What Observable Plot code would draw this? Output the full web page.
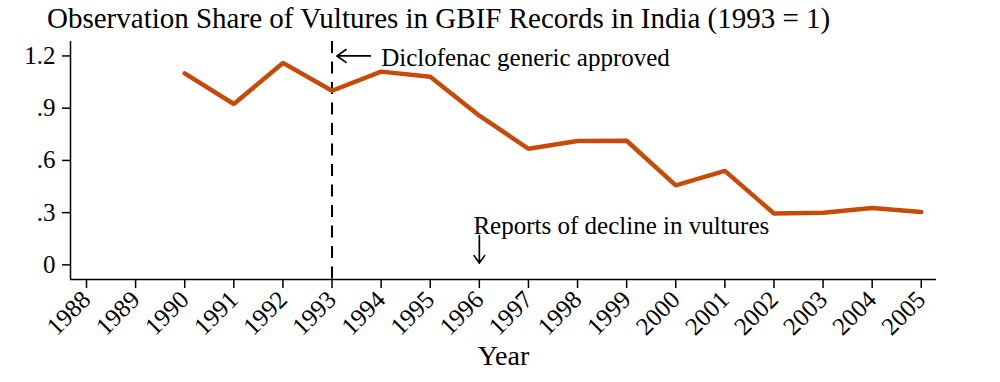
<!DOCTYPE html>
<html>
<head>
<meta charset="utf-8">
<script src="https://cdn.jsdelivr.net/npm/d3@7"></script>
<script src="https://cdn.jsdelivr.net/npm/@observablehq/plot@0.6"></script>
<style>
  html, body { margin: 0; padding: 0; background: white; }
  #title { height: 38px; box-sizing: border-box; padding-top: 4px; padding-left: 47px;
           font-family: "Liberation Serif", serif; font-size: 29px; line-height: 29px; color: black; white-space: nowrap; }
</style>
</head>
<body>
<div id="title">Observation Share of Vultures in GBIF Records in India (1993 = 1)</div>
<div id="chart"></div>
<script>
// ---- data ----
const years = [1990, 1991, 1992, 1993, 1994, 1995, 1996, 1997, 1998, 1999, 2000, 2001, 2002, 2003, 2004, 2005];
const share = [1.10, 0.924, 1.16, 1.00, 1.11, 1.08, 0.857, 0.667, 0.711, 0.713, 0.457, 0.540, 0.295, 0.300, 0.327, 0.304];
const tickYears = [1988, 1989, 1990, 1991, 1992, 1993, 1994, 1995, 1996, 1997, 1998, 1999, 2000, 2001, 2002, 2003, 2004, 2005];
const yTicks = [0, 0.3, 0.6, 0.9, 1.2];
const yTickLabels = ["0", ".3", ".6", ".9", "1.2"];
const eventYears = [1993];
const noteTexts = ["Diclofenac generic approved", "Reports of decline in vultures"];
const noteX = [1994.0, 1995.88];
const noteY = [1.19, 0.222];
const arrowFromX = [1993.78, 1996];
const arrowFromY = [1.2, 0.168];
const arrowToX = [1993.1, 1996];
const arrowToY = [1.2, 0.01];

// ---- tables ----
const series = years.map((y, i) => ({year: y, value: share[i]}));
const notes = noteTexts.map((t, i) => ({text: t, x: noteX[i], y: noteY[i]}));
const arrows = arrowFromX.map((x, i) => ({x1: x, y1: arrowFromY[i], x2: arrowToX[i], y2: arrowToY[i]}));
const xDomain = [1987.674, 2005.31];
const yDomain = [-0.084, 1.283];

const chart = Plot.plot({
  width: 1000,
  height: 344,
  marginLeft: 70,
  marginRight: 64,
  marginTop: 3,
  marginBottom: 103,
  x: {domain: xDomain},
  y: {domain: yDomain},
  style: {fontFamily: "Liberation Serif, serif", fontSize: "25px", color: "black", background: "white"},
  marks: [
    Plot.ruleX([xDomain[0]], {stroke: "black", strokeWidth: 1.5}),
    Plot.ruleY([yDomain[0]], {stroke: "black", strokeWidth: 1.5}),
    Plot.axisY({ticks: yTicks, tickFormat: (d) => yTickLabels[yTicks.indexOf(d)], tickSize: 8, tickPadding: 7, label: null, strokeWidth: 1.5}),
    Plot.axisX({ticks: tickYears, tickFormat: d => String(d), tickRotate: -45, tickSize: 9, tickPadding: 7,
                label: null, strokeWidth: 1.5}),
    Plot.axisX({ticks: [], tickSize: 0, label: "Year", labelAnchor: "center", labelArrow: "none", labelOffset: 85, fontSize: 28}),
    Plot.ruleX(eventYears, {stroke: "black", strokeWidth: 2, strokeDasharray: "12,8.5"}),
    Plot.line(series, {x: "year", y: "value", stroke: "#c54b0a", strokeWidth: 4.5, strokeLinejoin: "miter"}),
    Plot.arrow(arrows, {x1: "x1", y1: "y1", x2: "x2", y2: "y2", stroke: "black", strokeWidth: 1.7, headLength: 11, headAngle: 70}),
    Plot.text(notes, {x: "x", y: "y", text: "text", textAnchor: "start", fontSize: 25})
  ]
});
document.getElementById("chart").appendChild(chart);
</script>
</body>
</html>
